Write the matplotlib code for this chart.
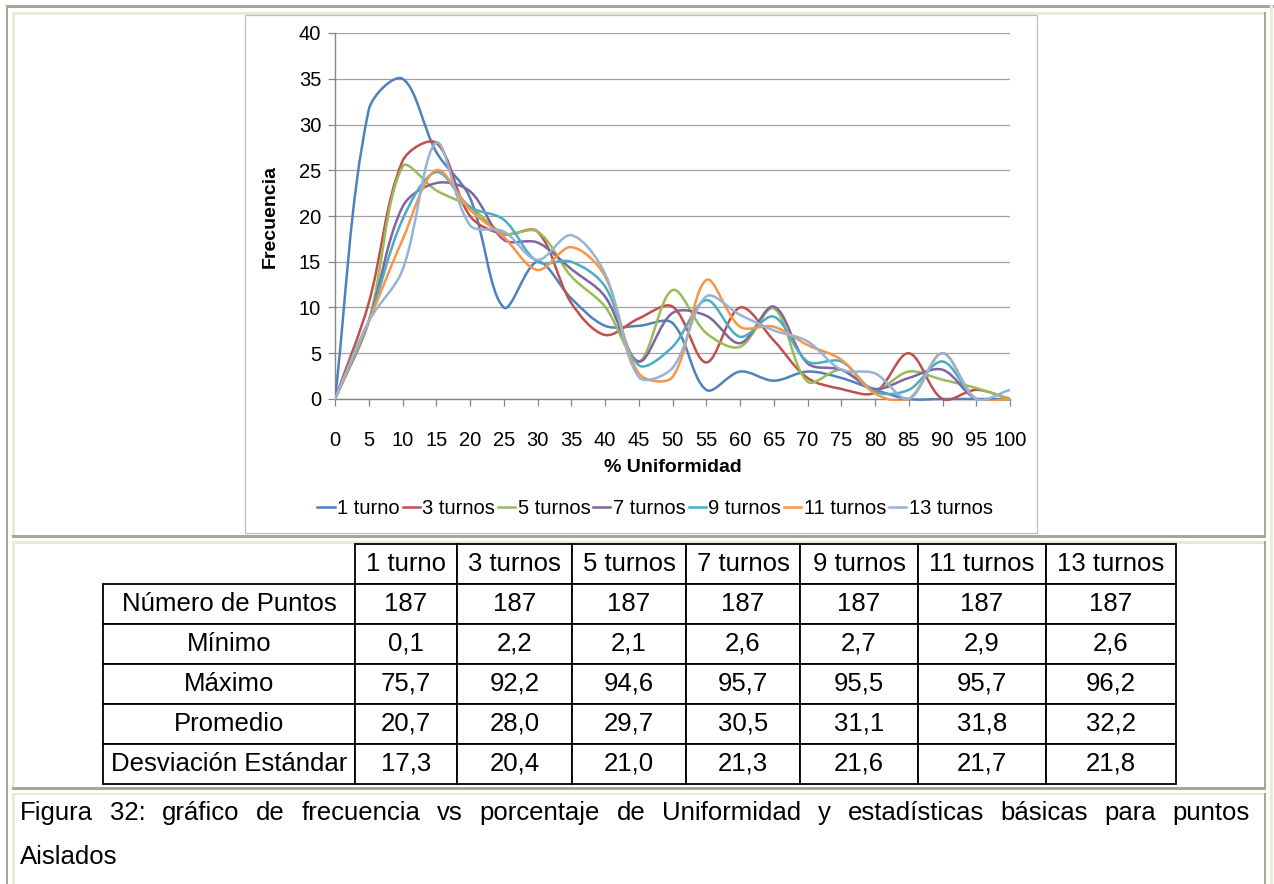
import numpy as np
import matplotlib
matplotlib.use("Agg")
import matplotlib.pyplot as plt
from matplotlib.path import Path
from matplotlib.patches import PathPatch, Rectangle
from matplotlib.lines import Line2D
from matplotlib.table import Table

plt.rcParams['font.family'] = ['Liberation Sans', 'DejaVu Sans']

# ---------------- data ----------------
uniformidad = [0, 5, 10, 15, 20, 25, 30, 35, 40, 45, 50, 55, 60, 65, 70, 75, 80, 85, 90, 95, 100]
series_names = ["1 turno", "3 turnos", "5 turnos", "7 turnos", "9 turnos", "11 turnos", "13 turnos"]
turno_1 = [0, 31.6, 35, 27, 22, 10, 15, 11, 8, 8, 8.3, 1, 3, 2, 3, 2.3, 1, 0, 0, 0, 0]
turnos_3 = [0, 10.5, 26, 28, 20, 18, 18.3, 10.5, 7, 8.8, 10.1, 4, 10, 6.4, 2.3, 1.1, 0.7, 5, 0, 1, 0]
turnos_5 = [0, 8.5, 25.4, 22.8, 21, 18.1, 18.3, 13.4, 10.1, 4.1, 11.9, 7.2, 5.7, 9.9, 1.9, 3.2, 1, 3, 2.1, 1.2, 0]
turnos_7 = [0, 8.5, 21, 23.6, 22.7, 17.4, 17.1, 14.2, 11.2, 4.1, 9.4, 9.1, 6.1, 10.1, 3.9, 3.2, 1.1, 2.3, 3.2, 0, 0]
turnos_9 = [0, 8.5, 19.6, 24.8, 21, 19.6, 15, 15, 12.3, 3.7, 5.7, 10.8, 6.8, 9, 4.1, 4.1, 0.8, 1, 4.1, 0, 0]
turnos_11 = [0, 8.5, 17.4, 25, 20.7, 17.7, 14.1, 16.6, 13.4, 2.8, 2.4, 13, 7.9, 7.9, 5.9, 4.3, 0.6, 0, 5, 0, 0]
turnos_13 = [0, 8.5, 14.1, 28, 19, 18.3, 15.2, 17.9, 13.7, 2.4, 3.4, 11.2, 9.2, 7.5, 6.3, 3.2, 2.8, 0, 5, 0, 1]
series_values = [turno_1, turnos_3, turnos_5, turnos_7, turnos_9, turnos_11, turnos_13]
colors = ["#4F81BD", "#C0504D", "#9BBB59", "#8064A2", "#4BACC6", "#F79646", "#95B3D7"]
y_ticks = [0, 5, 10, 15, 20, 25, 30, 35, 40]

table_cols = ["1 turno", "3 turnos", "5 turnos", "7 turnos", "9 turnos", "11 turnos", "13 turnos"]
table_rows = ["Número de Puntos", "Mínimo", "Máximo", "Promedio", "Desviación Estándar"]
n_puntos = ["187", "187", "187", "187", "187", "187", "187"]
minimo = ["0,1", "2,2", "2,1", "2,6", "2,7", "2,9", "2,6"]
maximo = ["75,7", "92,2", "94,6", "95,7", "95,5", "95,7", "96,2"]
promedio = ["20,7", "28,0", "29,7", "30,5", "31,1", "31,8", "32,2"]
desviacion = ["17,3", "20,4", "21,0", "21,3", "21,6", "21,7", "21,8"]
table_values = [n_puntos, minimo, maximo, promedio, desviacion]

caption_line1 = "Figura 32: gráfico de frecuencia vs porcentaje de Uniformidad y estadísticas básicas  para puntos"
caption_line2 = "Aislados"

# ---------------- figure ----------------
W, H = 1274, 884
fig = plt.figure(figsize=(W / 100, H / 100), dpi=100)
fig.patch.set_facecolor("white")

def fx(px):
    return px / W

def fy(py):
    return 1 - py / H

def rect_px(x0, y0, x1, y1, color, z=-2):
    r = Rectangle((fx(x0), fy(y1)), fx(x1) - fx(x0), fy(y0) - fy(y1),
                  transform=fig.transFigure, facecolor=color, edgecolor="none", lw=0, zorder=z)
    fig.add_artist(r)

dark = "#A8A797"
beige = "#ECE9D8"
# outer table borders
rect_px(6, 5, 1274, 7.5, dark)
rect_px(6, 5, 8, 884, dark)
rect_px(1270, 5, 1273, 884, beige)
# cell 1
rect_px(12, 12, 1264, 14.5, beige)
rect_px(12, 12, 14.5, 538, beige)
rect_px(1264, 12, 1266.3, 538, dark)
rect_px(12, 535.3, 1266.3, 538, dark)
# cell 2
rect_px(12, 541, 1264, 543.5, beige)
rect_px(12, 541, 14.5, 790, beige)
rect_px(1264, 541, 1266.3, 790, dark)
rect_px(12, 787.3, 1266.3, 790, dark)
# cell 3
rect_px(12, 792.5, 1264, 795, beige)
rect_px(12, 792.5, 14.5, 884, beige)
rect_px(1264, 792.5, 1266.3, 884, dark)

# chart box
cb = Rectangle((fx(245), fy(533)), fx(1037) - fx(245), fy(15) - fy(533),
               transform=fig.transFigure, facecolor="white", edgecolor="#BFBFBF", lw=0.9, zorder=-1)
fig.add_artist(cb)

# ---------------- chart ----------------
ax = fig.add_axes([fx(335), fy(399), fx(1010) - fx(335), fy(33) - fy(399)])
ax.set_facecolor("none")
ax.set_xlim(0, 100)
ax.set_ylim(0, 40)
ax.set_xticks(uniformidad)
ax.set_xticklabels([str(v) for v in uniformidad])
ax.set_yticks(y_ticks)
ax.set_yticklabels([str(v) for v in y_ticks])
for s in ["top", "right"]:
    ax.spines[s].set_visible(False)
for s in ["left", "bottom"]:
    ax.spines[s].set_color("#868686")
    ax.spines[s].set_linewidth(1.0)
ax.yaxis.grid(True, color="#A0A0A0", lw=0.9)
ax.set_axisbelow(True)
ax.tick_params(axis="x", direction="out", length=5, width=0.9, color="#868686", pad=18, labelsize=14.5)
ax.tick_params(axis="y", direction="out", length=5, width=0.9, color="#868686", pad=5, labelsize=14.5)

# scale factors (pixels per data unit) so that smoothing is done in screen space like Excel
SX = 675.0 / 100.0
SY = 366.0 / 40.0

def smooth(xs, ys):
    P = np.column_stack([np.asarray(xs, float) * SX, np.asarray(ys, float) * SY])
    n = len(P)
    tang_l = np.zeros_like(P)
    tang_r = np.zeros_like(P)
    for i in range(n):
        a = P[i - 1] if i > 0 else P[i]
        b = P[i + 1] if i < n - 1 else P[i]
        dl = np.hypot(*(P[i] - a))
        dr = np.hypot(*(b - P[i]))
        T = b - a
        if dl + dr > 0:
            tang_l[i] = T * dl / (dl + dr) / 3.0
            tang_r[i] = T * dr / (dl + dr) / 3.0
    verts = [P[0]]
    codes = [Path.MOVETO]
    for i in range(n - 1):
        verts += [P[i] + tang_r[i], P[i + 1] - tang_l[i + 1], P[i + 1]]
        codes += [Path.CURVE4] * 3
    V = np.array(verts) / np.array([SX, SY])
    return Path(V, codes)

clip = Rectangle((0, -0.006), 1, 1.02, transform=ax.transAxes, facecolor="none", edgecolor="none")
ax.add_patch(clip)
handles = []
for name, vals, col in zip(series_names, series_values, colors):
    pp = PathPatch(smooth(uniformidad, vals), facecolor="none", edgecolor=col, lw=1.8,
                   capstyle="round", joinstyle="round", zorder=3)
    ax.add_patch(pp)
    pp.set_clip_path(clip)
    handles.append(Line2D([], [], color=col, lw=1.8))

ax.set_xlabel("% Uniformidad", fontsize=14, fontweight="bold", va="center")
ax.xaxis.set_label_coords(0.5, (399 - 468) / 366.0)
ax.set_ylabel("Frecuencia", fontsize=14, fontweight="bold", va="center")
ax.yaxis.set_label_coords((270 - 335) / 675.0, 0.5)

leg = fig.legend(handles, series_names, loc="center", bbox_to_anchor=(fx(655), fy(509)),
                 ncol=7, frameon=False, fontsize=14.5, handlelength=0.85, handletextpad=0.12,
                 columnspacing=0.15, borderpad=0, borderaxespad=0)

# ---------------- table ----------------
col_edges = [103, 355, 457, 572, 686, 800, 918, 1046, 1176]
tax = fig.add_axes([fx(col_edges[1]), fy(784), fx(col_edges[-1]) - fx(col_edges[1]), fy(544) - fy(784)])
tax.set_axis_off()
data_w = col_edges[-1] - col_edges[1]
row_h = 1.0 / 6
tb = Table(tax, bbox=[0, 0, 1, 1])
tb.auto_set_font_size(False)
for j, name in enumerate(table_cols):
    w = (col_edges[j + 2] - col_edges[j + 1]) / data_w
    tb.add_cell(0, j, w, row_h, text=name, loc="center")
for i, rname in enumerate(table_rows):
    w0 = (col_edges[1] - col_edges[0]) / data_w
    tb.add_cell(i + 1, -1, w0, row_h, text=rname, loc="center")
    for j in range(len(table_cols)):
        w = (col_edges[j + 2] - col_edges[j + 1]) / data_w
        tb.add_cell(i + 1, j, w, row_h, text=table_values[i][j], loc="center")
for key, cell in tb.get_celld().items():
    cell.set_edgecolor("black")
    cell.set_linewidth(1.3)
    cell.get_text().set_fontsize(18.5)
    cell.PAD = 0.02
tax.add_table(tb)

# ---------------- caption (justified) ----------------
cap_size = 18.5
words = caption_line1.split()
fig.canvas.draw()
renderer = fig.canvas.get_renderer()
widths = []
tmp = []
for w in words:
    t = fig.text(0, 0, w, fontsize=cap_size)
    bb = t.get_window_extent(renderer)
    widths.append(bb.width)
    tmp.append(t)
for t in tmp:
    t.remove()
left, right = 20, 1250
gap = (right - left - sum(widths)) / (len(words) - 1)
x = left
for w, wd in zip(words, widths):
    fig.text(fx(x), fy(813), w, fontsize=cap_size, va="center", ha="left")
    x += wd + gap
fig.text(fx(20), fy(857), caption_line2, fontsize=cap_size, va="center", ha="left")

fig.savefig("out.png", dpi=100)
